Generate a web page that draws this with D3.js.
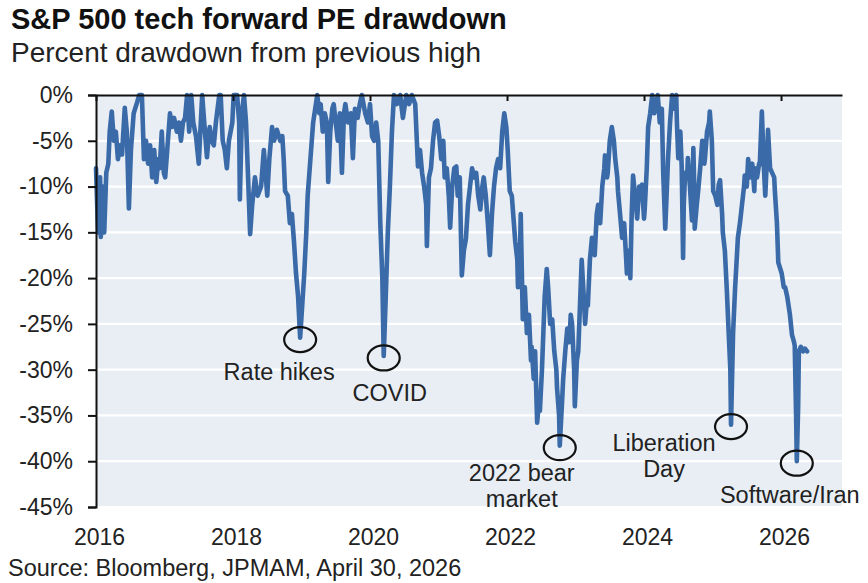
<!DOCTYPE html>
<html>
<head>
<meta charset="utf-8">
<script src="https://cdn.jsdelivr.net/npm/d3@7"></script>
<style>
  body { margin: 0; background: #fff; }
  text { font-family: "Liberation Sans", Arial, sans-serif; fill: #222; }
</style>
</head>
<body>
<div class="container"></div>
<script>
// Data (decimal year, % drawdown from previous high)
const years = [
  2016.00, 2016.03, 2016.06, 2016.07, 2016.10, 2016.12, 2016.15, 2016.18, 2016.20, 2016.23,
  2016.26, 2016.29, 2016.32, 2016.35, 2016.38, 2016.42, 2016.45, 2016.48, 2016.51, 2016.55,
  2016.60, 2016.63, 2016.67, 2016.70, 2016.73, 2016.76, 2016.79, 2016.82, 2016.85, 2016.88,
  2016.91, 2016.93, 2016.96, 2016.99, 2017.01, 2017.04, 2017.08, 2017.11, 2017.14, 2017.18,
  2017.21, 2017.24, 2017.27, 2017.30, 2017.33, 2017.36, 2017.39, 2017.42, 2017.46, 2017.50,
  2017.53, 2017.55, 2017.59, 2017.62, 2017.65, 2017.66, 2017.69, 2017.72, 2017.75, 2017.80,
  2017.82, 2017.85, 2017.88, 2017.91, 2017.94, 2017.99, 2018.01, 2018.06, 2018.09, 2018.10,
  2018.13, 2018.16, 2018.19, 2018.22, 2018.25, 2018.28, 2018.32, 2018.36, 2018.41, 2018.45,
  2018.50, 2018.53, 2018.57, 2018.60, 2018.64, 2018.69, 2018.72, 2018.74, 2018.76, 2018.80,
  2018.83, 2018.86, 2018.89, 2018.92, 2018.95, 2018.98, 2019.01, 2019.04, 2019.07, 2019.09,
  2019.14, 2019.17, 2019.21, 2019.23, 2019.26, 2019.28, 2019.31, 2019.34, 2019.37, 2019.39,
  2019.42, 2019.45, 2019.47, 2019.50, 2019.53, 2019.56, 2019.59, 2019.62, 2019.64, 2019.68,
  2019.72, 2019.75, 2019.78, 2019.82, 2019.85, 2019.88, 2019.93, 2019.97, 2020.00, 2020.03,
  2020.06, 2020.09, 2020.12, 2020.15, 2020.18, 2020.20, 2020.23, 2020.26, 2020.29, 2020.32,
  2020.35, 2020.39, 2020.44, 2020.48, 2020.53, 2020.57, 2020.61, 2020.66, 2020.70, 2020.73,
  2020.76, 2020.79, 2020.82, 2020.83, 2020.86, 2020.89, 2020.92, 2020.95, 2020.98, 2021.01,
  2021.04, 2021.07, 2021.09, 2021.12, 2021.15, 2021.17, 2021.20, 2021.23, 2021.26, 2021.28,
  2021.31, 2021.34, 2021.37, 2021.40, 2021.43, 2021.46, 2021.49, 2021.52, 2021.55, 2021.58,
  2021.61, 2021.64, 2021.66, 2021.69, 2021.72, 2021.75, 2021.78, 2021.81, 2021.84, 2021.87,
  2021.90, 2021.93, 2021.96, 2021.99, 2022.01, 2022.04, 2022.07, 2022.10, 2022.12, 2022.15,
  2022.16, 2022.19, 2022.20, 2022.23, 2022.26, 2022.29, 2022.32, 2022.35, 2022.36, 2022.39,
  2022.41, 2022.44, 2022.47, 2022.48, 2022.51, 2022.53, 2022.55, 2022.58, 2022.60, 2022.63,
  2022.66, 2022.69, 2022.72, 2022.73, 2022.76, 2022.77, 2022.80, 2022.82, 2022.85, 2022.88,
  2022.91, 2022.93, 2022.95, 2022.98, 2022.99, 2023.02, 2023.04, 2023.07, 2023.09, 2023.12,
  2023.14, 2023.17, 2023.18, 2023.21, 2023.24, 2023.27, 2023.28, 2023.31, 2023.33, 2023.36,
  2023.39, 2023.42, 2023.43, 2023.46, 2023.47, 2023.50, 2023.53, 2023.56, 2023.58, 2023.61,
  2023.62, 2023.65, 2023.68, 2023.71, 2023.74, 2023.75, 2023.78, 2023.80, 2023.82, 2023.84,
  2023.87, 2023.90, 2023.93, 2023.96, 2023.97, 2024.00, 2024.01, 2024.04, 2024.06, 2024.09,
  2024.12, 2024.15, 2024.18, 2024.20, 2024.23, 2024.26, 2024.28, 2024.31, 2024.34, 2024.35,
  2024.38, 2024.41, 2024.44, 2024.47, 2024.48, 2024.50, 2024.53, 2024.55, 2024.57, 2024.58,
  2024.60, 2024.63, 2024.64, 2024.67, 2024.70, 2024.72, 2024.73, 2024.74, 2024.77, 2024.79,
  2024.82, 2024.85, 2024.88, 2024.89, 2024.92, 2024.95, 2024.96, 2024.99, 2025.01, 2025.04,
  2025.07, 2025.09, 2025.11, 2025.14, 2025.15, 2025.18, 2025.21, 2025.23, 2025.26, 2025.27,
  2025.30, 2025.33, 2025.36, 2025.37, 2025.40, 2025.43, 2025.46, 2025.47, 2025.50, 2025.52,
  2025.55, 2025.58, 2025.61, 2025.62, 2025.65, 2025.68, 2025.69, 2025.72, 2025.75, 2025.77,
  2025.80, 2025.81, 2025.84, 2025.87, 2025.90, 2025.91, 2025.94, 2025.96, 2025.99, 2026.01,
  2026.04, 2026.06, 2026.09, 2026.10, 2026.13, 2026.16, 2026.19, 2026.20, 2026.22, 2026.23,
  2026.25, 2026.26, 2026.29, 2026.32, 2026.35, 2026.38
];
const drawdown = [
  -8, -15, -9, -15.5, -10, -15, -8.5, -7.5, -4, -1.8,
  -5, -4, -7, -5.5, -6.5, -1.4, -4, -12.4, -6, -2,
  -0.8, 0, 0, -7, -5, -7.5, -5.5, -9, -6, -9.5,
  -7, -8, -4, -8.5, -9, -6, -2, -3.5, -2.5, -4,
  -3, -5, -3, -2.5, 0, -4, 0, -3, -4.5, -7.5,
  -3, 0, -4, -6.8, -4, -3.5, -5, -5.5, -3, 0,
  0, -5, -6, -8, -5, -3, 0, 0, -3, -11.4,
  -2, 0, -3, -9, -15.2, -12, -9, -11, -10, -6,
  -11, -7, -3.5, -5, -3.8, -5, -4.5, -7, -10.5, -11,
  -14, -13, -16, -19.5, -22, -26.5, -23, -19.5, -15, -11,
  -6, -3, -1, 0, -2, -1, -4, -2, -3, -9.5,
  -4, -1.5, -1, -3, -5, -2, -8.5, -2, -1, -3,
  -2, -6.9, -1.5, -2.5, -1, 0, -2, -3, -1, -4.5,
  -5, -3, -5, -14, -20, -28.5, -22, -15, -10, -4,
  0, -1, 0, -2.5, 0, -1, 0, -1, -7.8, -6,
  -8.5, -10, -12, -16.5, -9, -8, -5, -3, -2.8, -4.5,
  -7, -5, -9, -8, -11, -14.5, -10, -8, -7.8, -11,
  -9, -19.7, -17, -15.7, -12, -10, -8, -9, -8.5, -11,
  -12.5, -10, -9, -11, -14, -17.5, -13, -10, -8, -7,
  -8, -4, -2, -3.5, -6, -10.5, -11, -14, -16, -18,
  -21, -17, -13, -24.5, -21, -26, -24, -29, -27.5, -31,
  -28, -35.8, -33, -34.5, -30, -26, -22, -19, -21, -25,
  -24.5, -28, -30, -32, -35, -38.3, -34, -31, -28, -25.5,
  -27, -24, -25, -30, -34, -29, -28, -22, -18, -22,
  -25, -22, -23, -18, -15.6, -17, -17.5, -13, -12, -14,
  -10, -8, -6.6, -9, -8.5, -5, -3.5, -5, -7, -9,
  -10.5, -13, -15.6, -14, -18, -19.5, -17, -20, -13, -8.8,
  -11, -13.5, -10, -10, -9.8, -13.5, -12.5, -8, -3.5, -2,
  0, -2, -1, 0, -3, -1.5, -8.5, -14.6, -9, -7,
  -3, 0, -1.5, 0, -3, -6.9, -4, -7.8, -17.8, -12,
  -8.5, -9, -6.9, -10, -13.7, -5.8, -9, -14.6, -12, -10.5,
  -8, -5, -7.5, -6.9, -4, -3, -1.8, -5, -10.5, -11,
  -12, -9.8, -9.3, -13, -15, -17, -21.5, -25, -30, -36,
  -26, -21, -17, -15.6, -14, -12, -10, -8.8, -10, -7,
  -9, -7.5, -10.5, -8, -9, -7.5, -7.6, -1.8, -8, -11,
  -6, -3.8, -8, -8.5, -9, -10.5, -14, -18.3, -19, -19.5,
  -21, -21, -22, -22.5, -24, -26.2, -27, -27.4, -35, -40,
  -34, -28, -27.5, -28, -27.7, -28
];
const yTicks = [0, -5, -10, -15, -20, -25, -30, -35, -40, -45];
const xTicks = [2016, 2018, 2020, 2022, 2024, 2026];
const annoLabels = [["Rate hikes"], ["COVID"], ["2022 bear", "market"], ["Liberation", "Day"], ["Software/Iran"]];
const annoYears = [2018.98, 2020.20, 2022.77, 2025.27, 2026.23];
const annoValues = [-26.5, -28.5, -38.3, -36, -40];

const W = 868, H = 583;
const margin = { top: 95, right: 26, bottom: 76, left: 96 };
const w = W - margin.left - margin.right,
  h = H - margin.top - margin.bottom;

const svg = d3
  .select(".container")
  .append("svg")
  .attr("width", W)
  .attr("height", H);

//Titles
svg.append("text")
  .attr("x", 11).attr("y", 29)
  .style("font-size", "29px").style("font-weight", "bold").style("fill", "#111")
  .text("S&P 500 tech forward PE drawdown");
svg.append("text")
  .attr("x", 11).attr("y", 62)
  .style("font-size", "28px")
  .text("Percent drawdown from previous high");
svg.append("text")
  .attr("x", 8).attr("y", 576)
  .style("font-size", "23.5px")
  .text("Source: Bloomberg, JPMAM, April 30, 2026");

const xScale = d3.scaleLinear().domain([2016, 2026.89]).range([0, w]);
const yScale = d3.scaleLinear().domain([-45, 0]).range([h, 0]);

const g = svg.append("g").attr("transform", `translate(${margin.left},${margin.top})`);

//Plot background + white gridlines
g.append("rect").attr("width", w).attr("height", h).style("fill", "#e8eef4");
g.selectAll(".grid")
  .data(yTicks.filter(d => d !== 0))
  .enter()
  .append("line")
  .attr("x1", 0).attr("x2", w)
  .attr("y1", d => yScale(d)).attr("y2", d => yScale(d))
  .style("stroke", "#fff").style("stroke-width", 2.2);

//Drawdown line
const line = d3.line().x((d, i) => xScale(years[i])).y(d => yScale(d));
g.append("path")
  .datum(drawdown)
  .attr("d", line)
  .style("fill", "none")
  .style("stroke", "#3a6aa8")
  .style("stroke-width", 4.6)
  .style("stroke-linejoin", "round")
  .style("stroke-linecap", "round");

//Top axis (line with ticks pointing down)
const topAxis = g.append("g")
  .call(d3.axisTop(xScale).tickValues(xTicks).tickSizeInner(-6).tickSizeOuter(0).tickFormat(""));
topAxis.select(".domain").style("stroke", "#111").style("stroke-width", 2);
topAxis.selectAll(".tick line").style("stroke", "#111").style("stroke-width", 2);

//Year labels below the plot
const bottomAxis = g.append("g")
  .attr("transform", `translate(0,${h})`)
  .call(d3.axisBottom(xScale).tickValues(xTicks).tickSize(0).tickPadding(22).tickFormat(d3.format("d")));
bottomAxis.select(".domain").remove();
bottomAxis.selectAll("text")
  .style("font-size", "23px").style("fill", "#222")
  .style("font-family", "Liberation Sans, Arial, sans-serif")
  .attr("dx", 3);

//Y axis
const yAxis = g.append("g")
  .call(d3.axisLeft(yScale).tickValues(yTicks).tickSize(8).tickPadding(15).tickFormat(d => d + "%"));
yAxis.select(".domain").style("stroke", "#111").style("stroke-width", 2);
yAxis.selectAll(".tick line").style("stroke", "#111").style("stroke-width", 2);
yAxis.selectAll("text")
  .style("font-size", "23px").style("fill", "#222")
  .style("font-family", "Liberation Sans, Arial, sans-serif");

//Annotation circles + labels
const labelOffsets = [[-21, 40], [6, 43], [-38, 33], [-67, 24], [-7, 40]];
annoLabels.forEach((lines, i) => {
  const cx = xScale(annoYears[i]), cy = yScale(annoValues[i]) + 2;
  g.append("ellipse")
    .attr("cx", cx).attr("cy", cy).attr("rx", 16).attr("ry", 12.5)
    .style("fill", "none").style("stroke", "#111").style("stroke-width", 2.2);
  g.append("text")
    .attr("text-anchor", "middle")
    .style("font-size", "23.5px")
    .selectAll("tspan")
    .data(lines)
    .enter()
    .append("tspan")
    .attr("x", cx + labelOffsets[i][0])
    .attr("y", (d, j) => cy + labelOffsets[i][1] + j * 26)
    .text(d => d);
});
</script>
</body>
</html>
